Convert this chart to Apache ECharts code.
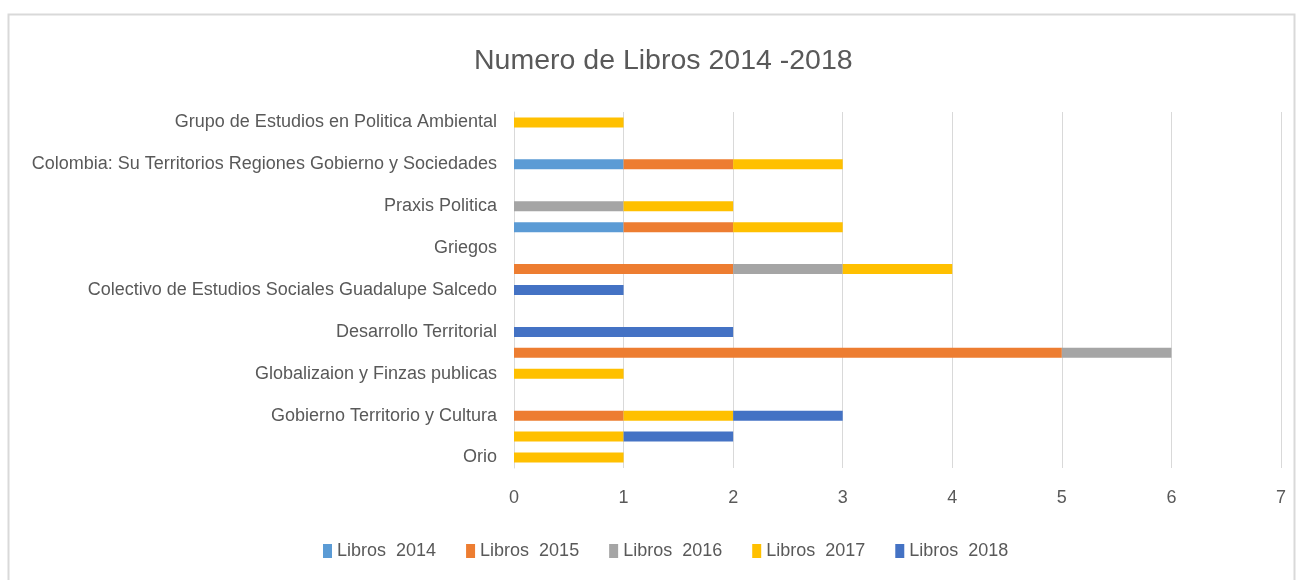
<!DOCTYPE html>
<html>
<head>
<meta charset="utf-8">
<script src="https://cdn.jsdelivr.net/npm/echarts@6/dist/echarts.min.js"></script>
<style>
  html, body { margin: 0; padding: 0; background: #fff; }
  #chart { width: 1301px; height: 580px; }
</style>
</head>
<body>
<div id="chart"></div>
<script>
// categorias (de arriba hacia abajo); las filas sin nombre no muestran etiqueta
const categorias = [
    'Grupo de Estudios en Politica Ambiental', '',
    'Colombia: Su Territorios Regiones Gobierno y Sociedades', '',
    'Praxis Politica', '',
    'Griegos', '',
    'Colectivo de Estudios Sociales Guadalupe Salcedo', '',
    'Desarrollo Territorial', '',
    'Globalizaion y Finzas publicas', '',
    'Gobierno Territorio y Cultura', '',
    'Orio'
];
const libros2014 = [0, 0, 1, 0, 0, 1, 0, 0, 0, 0, 0, 0, 0, 0, 0, 0, 0];
const libros2015 = [0, 0, 1, 0, 0, 1, 0, 2, 0, 0, 0, 5, 0, 0, 1, 0, 0];
const libros2016 = [0, 0, 0, 0, 1, 0, 0, 1, 0, 0, 0, 1, 0, 0, 0, 0, 0];
const libros2017 = [1, 0, 1, 0, 1, 1, 0, 1, 0, 0, 0, 0, 1, 0, 1, 1, 1];
const libros2018 = [0, 0, 0, 0, 0, 0, 0, 0, 1, 0, 2, 0, 0, 0, 1, 1, 0];
const nombres = ['Libros  2014', 'Libros  2015', 'Libros  2016', 'Libros  2017', 'Libros  2018'];
const colores = ['#5B9BD5', '#ED7D31', '#A5A5A5', '#FFC000', '#4472C4'];

const fuente = "'Liberation Sans', sans-serif";
const grafico = echarts.init(document.getElementById('chart'));

const makeSerie = (name, data, color) => ({
    name: name,
    type: 'bar',
    stack: 'total',
    barWidth: 10,
    itemStyle: { color: color },
    data: data
});

const options = {
    color: colores,
    title: {
        text: 'Numero de Libros 2014 -2018',
        left: 469,
        top: 42,
        textStyle: {
            fontFamily: fuente,
            fontSize: 28.5,
            fontWeight: 'normal',
            color: '#595959'
        }
    },
    graphic: [{
        type: 'rect',
        shape: { x: 8.5, y: 14.5, width: 1286, height: 600 },
        style: { fill: 'none', stroke: '#d9d9d9', lineWidth: 2 },
        silent: true
    }],
    legend: {
        data: nombres,
        bottom: 15,
        left: 318,
        itemWidth: 9,
        itemHeight: 14,
        itemGap: 30,
        icon: 'rect',
        textStyle: {
            fontFamily: fuente,
            fontSize: 18,
            color: '#595959'
        }
    },
    grid: {
        left: 514,
        right: 20,
        top: 112,
        bottom: 112
    },
    xAxis: {
        type: 'value',
        min: 0,
        max: 7,
        interval: 1,
        axisLine: { show: false },
        axisTick: { show: false },
        splitLine: { lineStyle: { color: '#d9d9d9' } },
        axisLabel: {
            margin: 21,
            fontFamily: fuente,
            fontSize: 18,
            color: '#595959'
        }
    },
    yAxis: {
        type: 'category',
        inverse: true,
        data: categorias,
        axisLine: { show: true, lineStyle: { color: '#d9d9d9' } },
        axisTick: { show: false },
        axisLabel: {
            interval: 1,
            margin: 17,
            padding: [3, 0, 0, 0],
            fontFamily: fuente,
            fontSize: 18,
            color: '#595959'
        }
    },
    series: [
        makeSerie(nombres[0], libros2014, colores[0]),
        makeSerie(nombres[1], libros2015, colores[1]),
        makeSerie(nombres[2], libros2016, colores[2]),
        makeSerie(nombres[3], libros2017, colores[3]),
        makeSerie(nombres[4], libros2018, colores[4])
    ]
};
grafico.setOption(options);
window.onresize = () => {
    grafico.resize();
};
</script>
</body>
</html>
